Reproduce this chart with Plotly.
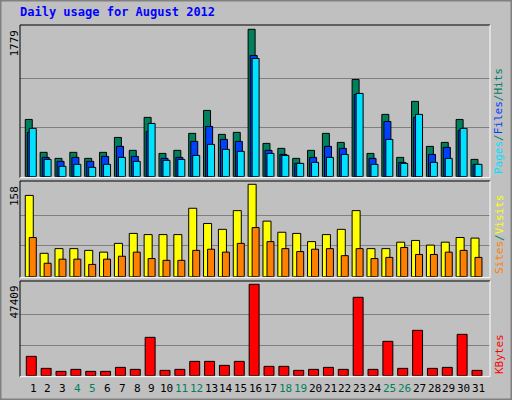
import plotly.graph_objects as go

days = list(range(1, 32))
hits = [691,294,221,294,221,294,474,318,716,281,318,523,800,511,535,1779,402,342,221,318,523,414,1174,281,752,233,909,366,414,691,209]
files = [535,233,185,233,185,245,366,245,547,221,233,426,607,450,426,1463,318,269,161,233,366,342,993,221,667,173,716,269,354,559,149]
pages = [583,209,125,149,113,149,233,185,643,197,209,257,390,330,306,1427,281,257,161,173,233,269,1005,149,450,161,752,173,221,583,149]
visits = [139,40,48,48,45,42,57,74,72,72,72,117,91,81,113,158,95,76,74,60,72,81,113,48,48,59,62,54,59,67,66]
sites = [67,23,30,30,21,30,35,42,31,28,28,45,47,42,57,84,60,48,43,47,48,36,48,31,33,50,38,38,42,45,33]
kbytes = [10036,3806,2250,3287,2250,2250,4325,3287,19898,2768,3287,7440,7440,5364,7440,47409,4845,4845,2768,3287,4325,3287,40660,3287,17822,3806,23532,3806,4325,21455,2768]
weekends = [4,5,11,12,18,19,25,26]

W, H = 512, 400
fig = go.Figure()
line = dict(color="black", width=1)
def bar(y, color, off, wid, ax):
    fig.add_trace(go.Bar(x=days, y=y, marker=dict(color=color, line=line), offset=off, width=wid,
                         xaxis="x" + ax, yaxis="y" + ax, showlegend=False, hoverinfo="skip"))
bar(hits, "#00805C", -0.52, 0.47, "")
bar(files, "#0040FF", -0.38, 0.47, "")
bar(pages, "#00E0FF", -0.25, 0.47, "")
bar(visits, "#FFFF00", -0.52, 0.54, "2")
bar(sites, "#FF8000", -0.25, 0.47, "2")
bar(kbytes, "#FF0000", -0.45, 0.67, "3")

x0, x1 = 20, 490
def dom(t, b):
    return [1 - b / H, 1 - t / H]
xr = [1 - 13 / 14.86, 31 + 11.3 / 14.86]
panels = [("", 25, 176.7, 1779, 29.3), ("2", 181, 276.7, 158, 184.3), ("3", 281, 375.7, 47409, 284.3)]
lay = {}
for ax, t, b, mx, mxy in panels:
    rng = mx * (b - t) / (b - mxy)
    lay["xaxis" + ax] = dict(domain=[x0 / W, x1 / W], range=xr, showticklabels=False, showgrid=False,
                             zeroline=False, anchor="y" + ax, fixedrange=True)
    lay["yaxis" + ax] = dict(domain=dom(t, b), range=[0, rng], tickvals=[mx / 3, 2 * mx / 3], showticklabels=False,
                             gridcolor="#808080", gridwidth=1, zeroline=False, anchor="x" + ax)

shapes = [dict(type="rect", xref="paper", yref="paper", x0=0, x1=1, y0=0, y1=1,
               line=dict(color="#808080", width=3), fillcolor="rgba(0,0,0,0)")]
for ax, t, b, mx, mxy in panels:
    shapes.append(dict(type="line", xref="paper", yref="paper", x0=x0 / W, x1=x1 / W, y0=1 - t / H, y1=1 - t / H, line=dict(color="black", width=1)))
    shapes.append(dict(type="line", xref="paper", yref="paper", x0=x0 / W, x1=x0 / W, y0=1 - t / H, y1=1 - (b + 1) / H, line=dict(color="black", width=1)))
    shapes.append(dict(type="line", xref="paper", yref="paper", x0=x1 / W, x1=x1 / W, y0=1 - t / H, y1=1 - (b + 1) / H, line=dict(color="white", width=1)))
    shapes.append(dict(type="line", xref="paper", yref="paper", x0=x0 / W, x1=x1 / W, y0=1 - (b + 1) / H, y1=1 - (b + 1) / H, line=dict(color="white", width=1)))

mono = "DejaVu Sans Mono"
ann = [dict(text="<b>Daily usage for August 2012</b>", x=18 / W, y=1 - 12 / H, xref="paper", yref="paper",
            xanchor="left", yanchor="middle", showarrow=False, font=dict(family=mono, size=12, color="#0000FF"))]
for ax, t, b, mx, mxy in panels:
    ann.append(dict(text=str(mx), x=14 / W, y=1 - (t + 3) / H, xref="paper", yref="paper", textangle=-90,
                    xanchor="center", yanchor="top", showarrow=False, font=dict(family=mono, size=11, color="black")))
right = [('<span style="color:#00E0FF">Pages</span><span style="color:#00805C">/</span><span style="color:#0040FF">Files</span><span style="color:#00805C">/Hits</span>', 25),
         ('<span style="color:#FF8000">Sites</span><span style="color:#00805C">/</span><span style="color:#FFFF00">Visits</span>', 181),
         ('<span style="color:#FF0000">KBytes</span>', 281)]
bottoms = [176, 276, 376]
for (txt, t), bb in zip(right, bottoms):
    ann.append(dict(text=txt, x=499 / W, y=1 - bb / H, xref="paper", yref="paper", textangle=-90,
                    xanchor="center", yanchor="bottom", showarrow=False, font=dict(family=mono, size=11)))
for d in days:
    ann.append(dict(text=str(d), x=d, y=1 - 388 / H, xref="x3", yref="paper", showarrow=False,
                    xanchor="center", yanchor="middle",
                    font=dict(family=mono, size=11, color="#00805C" if d in weekends else "black")))

fig.update_layout(width=W, height=H, margin=dict(l=0, r=0, t=0, b=0), paper_bgcolor="#C0C0C0",
                  plot_bgcolor="#C0C0C0", barmode="overlay", shapes=shapes, annotations=ann, **lay)
fig.write_html("out.html", config={"displayModeBar": False},
               post_script="document.body.style.margin='0';document.body.style.overflow='hidden';")
